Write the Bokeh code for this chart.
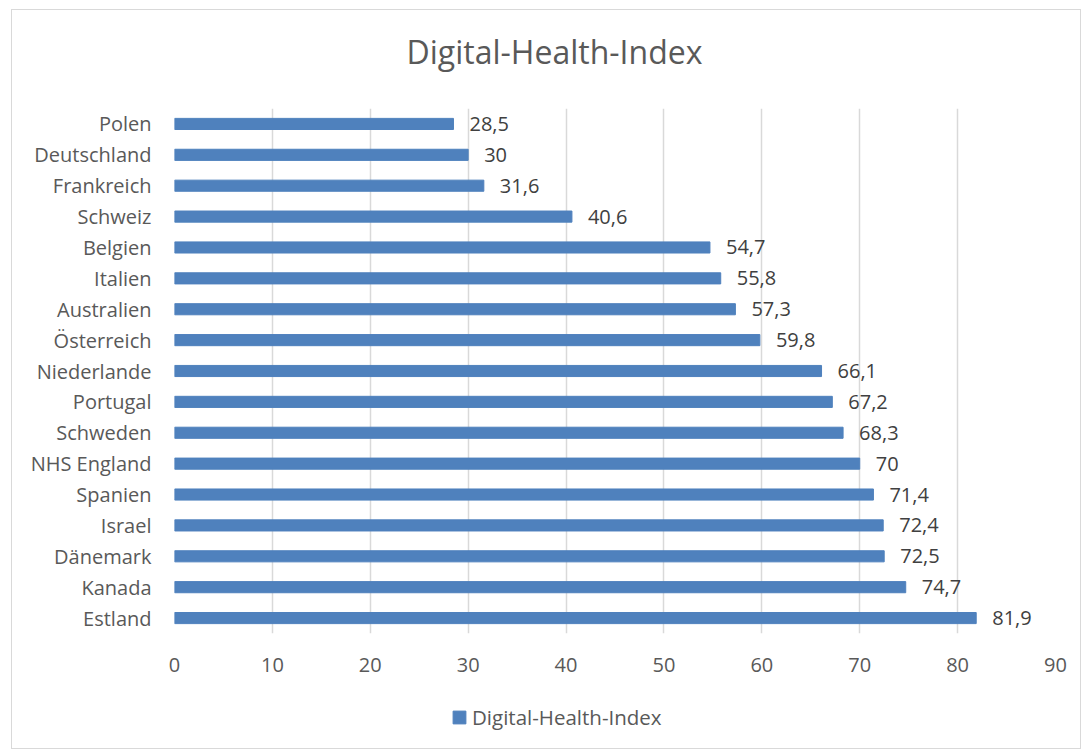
from bokeh.plotting import figure
from bokeh.layouts import column
from bokeh.models import FixedTicker, Legend, LegendItem, ColumnDataSource
from bokeh.core.properties import value
from bokeh.embed import file_html
from bokeh.resources import INLINE

countries = ["Polen", "Deutschland", "Frankreich", "Schweiz", "Belgien", "Italien",
             "Australien", "Österreich", "Niederlande", "Portugal", "Schweden",
             "NHS England", "Spanien", "Israel", "Dänemark", "Kanada", "Estland"]
values = [28.5, 30, 31.6, 40.6, 54.7, 55.8, 57.3, 59.8, 66.1, 67.2, 68.3,
          70, 71.4, 72.4, 72.5, 74.7, 81.9]
x_ticks = [0, 10, 20, 30, 40, 50, 60, 70, 80, 90]
series_name = "Digital-Health-Index"
title_text = "Digital-Health-Index"

def fmt(v):
    s = ("%g" % v)
    return s.replace(".", ",")

labels = [fmt(v) for v in values]
src = ColumnDataSource(dict(country=countries, val=values, lab=labels))

FONT = "Open Sans"
GREY = "#595959"
BLUE = "#4f81bd"
W = 1068

def blank(fig):
    fig.outline_line_color = None
    fig.xgrid.visible = False
    fig.ygrid.visible = False

# title strip
tf = figure(width=W, height=98, output_backend="svg", toolbar_location=None,
            x_axis_type=None, y_axis_type=None, min_border=0)
blank(tf)
tf.title.text = title_text
tf.title.align = "left"
tf.title.offset = 232
tf.title.vertical_align = "bottom"
tf.title.standoff = 34
tf.title.text_font = FONT
tf.title.text_font_size = "32px"
tf.title.text_font_style = "normal"
tf.title.text_color = GREY

# main chart
p = figure(width=W, height=587, y_range=list(reversed(countries)),
           x_range=(0, 90), output_backend="svg", toolbar_location=None,
           min_border_left=162, min_border_right=25, min_border_top=0,
           min_border_bottom=62)
p.outline_line_color = None

r = p.hbar(y="country", right="val", left=0, height=0.36, source=src,
           fill_color=BLUE, line_color=BLUE, line_width=1)
p.text(x="val", y="country", text="lab", source=src, x_offset=16,
       text_baseline="middle", text_align="left", text_font=value(FONT),
       text_font_size="20px", text_color="#404040")

p.xaxis.ticker = FixedTicker(ticks=x_ticks)
p.xaxis.axis_line_color = None
p.xaxis.major_tick_line_color = None
p.xaxis.minor_tick_line_color = None
p.xaxis.major_label_text_font = FONT
p.xaxis.major_label_text_font_size = "20px"
p.xaxis.major_label_text_color = GREY
p.xaxis.major_label_standoff = 18

p.yaxis.axis_line_color = None
p.yaxis.major_tick_line_color = None
p.yaxis.major_label_text_font = FONT
p.yaxis.major_label_text_font_size = "20px"
p.yaxis.major_label_text_color = GREY
p.yaxis.major_label_standoff = 17

p.ygrid.grid_line_color = None
p.xgrid.ticker = FixedTicker(ticks=x_ticks)
p.xgrid.grid_line_color = "#d9d9d9"
p.xgrid.grid_line_width = 1.5

# legend strip below the chart (its renderer is hidden; only the key shows)
lp = figure(width=W, height=53, output_backend="svg", toolbar_location=None,
            x_axis_type=None, y_axis_type=None, min_border=0,
            min_border_bottom=7, x_range=(0, 90),
            y_range=list(reversed(countries)))
blank(lp)
lr = lp.hbar(y="country", right="val", left=0, height=0.36, source=src,
             fill_color=BLUE, line_color=BLUE, line_width=1)
lr.visible = False
legend = Legend(items=[LegendItem(label=series_name, renderers=[lr])],
                orientation="horizontal", location=(277, 10),
                label_text_font=FONT, label_text_font_size="20.5px",
                label_text_color=GREY, glyph_width=16, glyph_height=16,
                border_line_color=None, background_fill_alpha=0,
                margin=0, padding=0, label_standoff=5)
lp.add_layout(legend)

layout = column(tf, p, lp, spacing=0)
layout.margin = (9, 0, 0, 11)
layout.styles = {"border": "1px solid #d9d9d9"}

open("out.html", "w").write(file_html(layout, INLINE))
